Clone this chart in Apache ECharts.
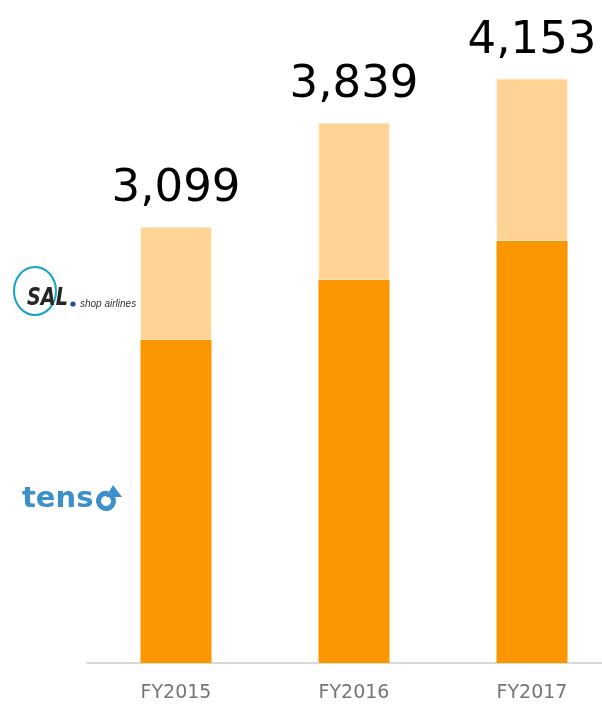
<!DOCTYPE html>
<html>
<head>
<meta charset="utf-8">
<script src="https://cdn.jsdelivr.net/npm/echarts@6/dist/echarts.min.js"></script>
<style>
html,body{margin:0;padding:0;background:#fff;}
#chart{width:602px;height:704px;}
</style>
</head>
<body>
<div id="chart"></div>
<script>
var categories = ['FY2015', 'FY2016', 'FY2017'];
var tensoValues = [2297, 2724, 3001];
var salValues = [802, 1115, 1152];
var totalLabels = ['3,099', '3,839', '4,153'];

var chart = echarts.init(document.getElementById('chart'), null, {renderer: 'canvas'});
chart.setOption({
  animation: false,
  backgroundColor: '#ffffff',
  grid: {left: 87, width: 534, top: 30, bottom: 41, containLabel: false, outerBoundsMode: 'none'},
  xAxis: {
    type: 'category',
    data: categories,
    axisLine: {show: true, lineStyle: {color: '#d9d9d9', width: 2}},
    axisTick: {show: false},
    axisLabel: {color: '#757575', fontSize: 19, fontFamily: 'DejaVu Sans', margin: 21}
  },
  yAxis: {
    type: 'value', min: 0, max: 4500,
    show: false, splitLine: {show: false}
  },
  series: [
    {
      name: 'tenso', type: 'bar', stack: 'total', data: tensoValues,
      barWidth: 71,
      itemStyle: {color: '#FA9600'}
    },
    {
      name: 'SAL', type: 'bar', stack: 'total', data: salValues,
      barWidth: 71,
      itemStyle: {color: '#FED395', borderColor: '#FFE3BA', borderWidth: 1},
      label: {
        show: true, position: 'top', distance: 15,
        fontFamily: 'DejaVu Sans', fontSize: 45, color: '#000',
        formatter: function (p) { return totalLabels[p.dataIndex]; }
      }
    }
  ],
  graphic: [
    {type: 'ellipse', shape: {cx: 35, cy: 291, rx: 21, ry: 24}, style: {fill: 'none', stroke: '#1AA3C9', lineWidth: 2}},
    {type: 'text', x: 27, y: 299, scaleX: 0.8, originX: 0, style: {text: 'SAL', fontFamily: 'DejaVu Sans', fontStyle: 'italic', fontWeight: 'bold', fontSize: 24, fill: '#262626', verticalAlign: 'middle'}},
    {type: 'circle', shape: {cx: 73, cy: 304, r: 2.6}, style: {fill: '#1B4FA3'}},
    {type: 'text', x: 80, y: 304, style: {text: 'shop airlines', fontFamily: 'Liberation Sans', fontStyle: 'italic', fontSize: 10, fill: '#333', verticalAlign: 'middle'}},
    {type: 'text', x: 22, y: 499, style: {text: 'tens', fontFamily: 'DejaVu Sans', fontWeight: 'bold', fontSize: 29, fill: '#3B8FCA', verticalAlign: 'middle'}},
    {type: 'arc', shape: {cx: 106, cy: 501, r: 7.5, startAngle: -Math.PI * 0.3, endAngle: Math.PI * 1.6}, style: {stroke: '#3B8FCA', lineWidth: 5, fill: 'none'}},
    {type: 'polygon', shape: {points: [[113, 485], [122, 497], [106, 497]]}, style: {fill: '#3B8FCA'}}
  ]
});
</script>
</body>
</html>
